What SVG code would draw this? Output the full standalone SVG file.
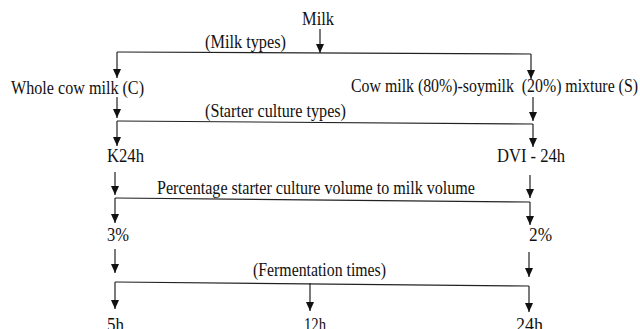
<svg xmlns="http://www.w3.org/2000/svg" width="640" height="329" viewBox="0 0 640 329">
<defs>
<marker id="ah" markerUnits="userSpaceOnUse" markerWidth="10" markerHeight="9" refX="9" refY="4" orient="auto">
<path d="M0,0 L9,4 L0,8 z" fill="#111"/>
</marker>
<style>
text{font-family:"Liberation Serif","Times New Roman",serif;font-size:18px;fill:#111}
.c path{fill:none;stroke:#222;stroke-width:1.2}
.a{marker-end:url(#ah)}
</style>
</defs>
<rect width="640" height="329" fill="#fff"/>
<g class="c" id="connectors">
<path class="a" d="M320 29 V53"/>
<path d="M117 52 L531 54"/>
<path class="a" d="M117 52 V78"/>
<path class="a" d="M531 54 V79"/>
<path class="a" d="M117 97 V118"/>
<path d="M117 121 L533 124"/>
<path class="a" d="M117 121 V146"/>
<path class="a" d="M533 97 V121"/>
<path class="a" d="M533 124 V147"/>
<path class="a" d="M115 172 V195"/>
<path d="M115 198 L530 202"/>
<path class="a" d="M530 175 V198"/>
<path class="a" d="M115 198 V223"/>
<path class="a" d="M530 202 V225"/>
<path class="a" d="M115 249 V273"/>
<path class="a" d="M529 252 V277"/>
<path d="M115 282 L529 286"/>
<path class="a" d="M115 282 V309"/>
<path class="a" d="M310 283 V311"/>
<path class="a" d="M529 286 V312"/>
</g>
<g id="labels">
<text x="205" y="48" textLength="81" lengthAdjust="spacingAndGlyphs">(Milk types)</text>
<text x="205" y="117" textLength="141" lengthAdjust="spacingAndGlyphs">(Starter culture types)</text>
<text x="157" y="194" textLength="318" lengthAdjust="spacingAndGlyphs">Percentage starter culture volume to milk volume</text>
<text x="253" y="276" textLength="133" lengthAdjust="spacingAndGlyphs">(Fermentation times)</text>
</g>
<g id="n-milk"><text x="302" y="25" textLength="32" lengthAdjust="spacingAndGlyphs">Milk</text></g>
<g id="n-c"><text x="11" y="94" textLength="133" lengthAdjust="spacingAndGlyphs">Whole cow milk (C)</text></g>
<g id="n-s"><text x="351" y="92" textLength="287" lengthAdjust="spacingAndGlyphs" xml:space="preserve">Cow milk (80%)-soymilk  (20%) mixture (S)</text></g>
<g id="n-k24"><text x="107" y="162" textLength="37" lengthAdjust="spacingAndGlyphs">K24h</text></g>
<g id="n-dvi"><text x="497" y="162" textLength="68" lengthAdjust="spacingAndGlyphs">DVI - 24h</text></g>
<g id="n-3"><text x="107" y="241" textLength="22" lengthAdjust="spacingAndGlyphs">3%</text></g>
<g id="n-2"><text x="529" y="241" textLength="23" lengthAdjust="spacingAndGlyphs">2%</text></g>
<g id="n-5h"><text x="107" y="331" textLength="17" lengthAdjust="spacingAndGlyphs">5h</text></g>
<g id="n-12h"><text x="304" y="331" textLength="22" lengthAdjust="spacingAndGlyphs">12h</text></g>
<g id="n-24h"><text x="516" y="331" textLength="27" lengthAdjust="spacingAndGlyphs">24h</text></g>
</svg>
